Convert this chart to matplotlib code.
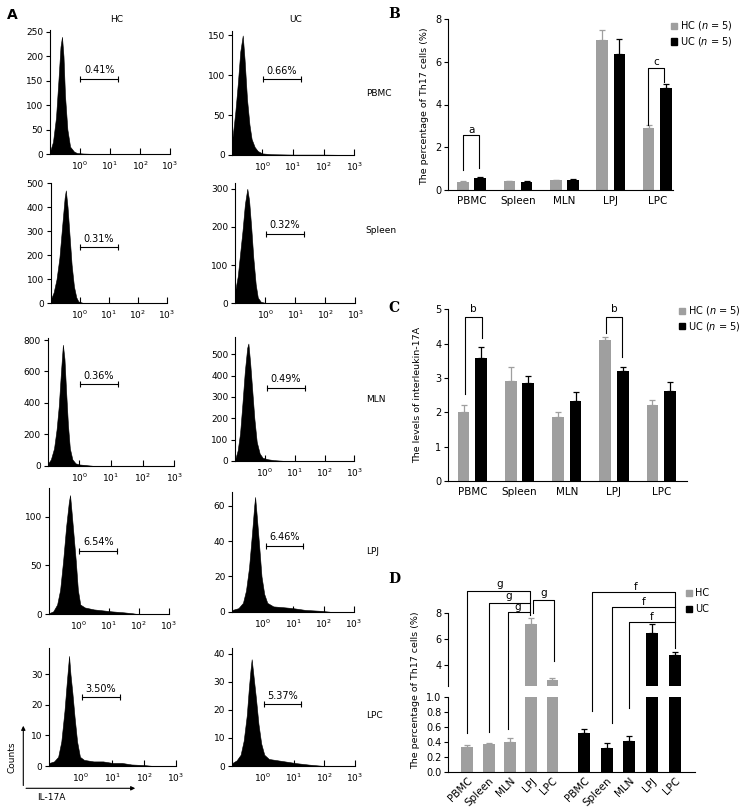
import numpy as np
import matplotlib.pyplot as plt
from matplotlib.lines import Line2D
from matplotlib.patches import Rectangle

W, H = 749, 808
plt.rcParams['font.family'] = ['DejaVu Sans']
plt.rcParams['font.size'] = 6.5
plt.rcParams['axes.linewidth'] = 0.8
plt.rcParams['mathtext.fontset'] = 'dejavusans'

# ---- panel A: flow histograms (log10 IL-17A, counts)
hc_pbmc_x = [-1.0, -0.9, -0.8, -0.72, -0.65, -0.6, -0.55, -0.5, -0.42, -0.33, -0.2, -0.1, 0.1, 0.5]
hc_pbmc_y = [5, 25, 75, 150, 220, 240, 200, 120, 50, 15, 5, 2, 1, 0]
uc_pbmc_x = [-1.0, -0.95, -0.88, -0.8, -0.72, -0.64, -0.58, -0.5, -0.42, -0.35, -0.25, -0.15, 0.0, 0.3, 1.0, 2.0, 3.0]
uc_pbmc_y = [15, 30, 55, 90, 130, 150, 120, 70, 38, 20, 10, 5, 2, 1, 0.5, 0.5, 0]
hc_spleen_x = [-1.0, -0.9, -0.8, -0.7, -0.6, -0.52, -0.48, -0.42, -0.35, -0.28, -0.2, -0.12, -0.05, 0.1, 0.5]
hc_spleen_y = [15, 45, 100, 190, 330, 440, 470, 400, 280, 160, 70, 25, 8, 2, 0]
uc_spleen_x = [-1.0, -0.92, -0.84, -0.76, -0.68, -0.6, -0.54, -0.47, -0.4, -0.32, -0.25, -0.15, 0.0, 0.5]
uc_spleen_y = [35, 70, 130, 190, 260, 300, 270, 200, 120, 50, 15, 4, 1, 0]
hc_mln_x = [-1.0, -0.9, -0.8, -0.72, -0.65, -0.58, -0.52, -0.47, -0.42, -0.36, -0.3, -0.22, -0.12, 0.0, 0.2, 0.4]
hc_mln_y = [10, 40, 110, 230, 380, 600, 770, 680, 480, 260, 110, 40, 15, 8, 4, 0]
uc_mln_x = [-1.0, -0.92, -0.84, -0.76, -0.68, -0.6, -0.56, -0.5, -0.43, -0.36, -0.28, -0.18, -0.08, 0.1, 0.3, 0.6, 1.0]
uc_mln_y = [10, 50, 130, 270, 420, 530, 550, 460, 330, 200, 90, 35, 15, 8, 4, 1, 0]
hc_lpj_x = [-1.0, -0.85, -0.72, -0.62, -0.52, -0.42, -0.33, -0.29, -0.24, -0.17, -0.1, -0.03, 0.05, 0.2, 0.5, 0.8, 1.1, 1.5, 1.8, 2.0]
hc_lpj_y = [1, 3, 10, 25, 55, 90, 115, 122, 105, 80, 55, 25, 10, 7, 5, 4, 3, 2, 1, 0]
uc_lpj_x = [-1.0, -0.8, -0.65, -0.55, -0.45, -0.35, -0.28, -0.25, -0.2, -0.12, -0.04, 0.05, 0.15, 0.35, 0.7, 1.0, 1.4, 1.9, 2.2]
uc_lpj_y = [1, 2, 5, 12, 25, 45, 60, 65, 55, 38, 20, 10, 5, 3, 2.5, 2, 1, 0.5, 0]
hc_lpc_x = [-1.0, -0.85, -0.72, -0.62, -0.52, -0.45, -0.4, -0.375, -0.33, -0.27, -0.2, -0.12, -0.03, 0.1, 0.4, 0.7, 1.0, 1.3, 1.6, 2.0, 2.3]
hc_lpc_y = [1, 1.5, 3, 8, 18, 27, 33, 36, 30, 24, 16, 8, 3, 2, 1.5, 1.5, 1, 1, 0.5, 0.3, 0]
uc_lpc_x = [-1.0, -0.85, -0.72, -0.62, -0.52, -0.45, -0.4, -0.36, -0.3, -0.22, -0.14, -0.05, 0.05, 0.2, 0.5, 0.8, 1.1, 1.5, 2.0]
uc_lpc_y = [1, 2, 4, 9, 18, 28, 34, 38, 32, 24, 15, 8, 4, 2.5, 2, 1.5, 1, 0.5, 0]
pct_labels = ['0.41%', '0.66%', '0.31%', '0.32%', '0.36%', '0.49%', '6.54%', '6.46%', '3.50%', '5.37%']

# ---- panel B / C / D data
cats = ['PBMC', 'Spleen', 'MLN', 'LPJ', 'LPC']
b_hc = [0.38, 0.42, 0.47, 7.0, 2.9]
b_hc_err = [0.02, 0.02, 0.02, 0.5, 0.15]
b_uc = [0.55, 0.37, 0.45, 6.35, 4.75]
b_uc_err = [0.07, 0.06, 0.08, 0.7, 0.22]
c_hc = [2.0, 2.9, 1.86, 4.1, 2.2]
c_hc_err = [0.21, 0.43, 0.14, 0.08, 0.17]
c_uc = [3.58, 2.84, 2.32, 3.19, 2.61]
c_uc_err = [0.33, 0.23, 0.28, 0.14, 0.26]
d_hc = [0.33, 0.37, 0.40, 7.14, 2.90]
d_hc_err = [0.03, 0.02, 0.05, 0.43, 0.14]
d_uc = [0.52, 0.32, 0.41, 6.44, 4.77]
d_uc_err = [0.05, 0.065, 0.065, 0.68, 0.28]

GRAY = '#9f9f9f'
CAT_FS = 7.5
fig = plt.figure(figsize=(W / 100, H / 100), dpi=100)


def add_ax(l, t, r, b):
    return fig.add_axes([l / W, 1 - b / H, (r - l) / W, (b - t) / H])


def fx(x):
    return x / W


def fy(y):
    return 1 - y / H


def ftext(x, y, s, **kw):
    fig.text(fx(x), fy(y), s, **kw)


# histogram layout: box (l, t, r, b), y top, yticks, gate (x0, x1, y)
hists = [
    (hc_pbmc_x, hc_pbmc_y, (50, 30, 170, 154), 254, [0, 50, 100, 150, 200, 250], (0.0, 1.28, 154)),
    (uc_pbmc_x, uc_pbmc_y, (231.7, 30.7, 354.3, 155), 156, [0, 50, 100, 150], (0.03, 1.26, 95)),
    (hc_spleen_x, hc_spleen_y, (50.7, 182.7, 167, 303.3), 502, [0, 100, 200, 300, 400, 500], (0.0, 1.31, 233)),
    (uc_spleen_x, uc_spleen_y, (235.3, 182.7, 355.3, 303.3), 316, [0, 100, 200, 300], (0.03, 1.29, 182)),
    (hc_mln_x, hc_mln_y, (47.7, 338, 174.3, 465.7), 813, [0, 200, 400, 600, 800], (0.02, 1.22, 518)),
    (uc_mln_x, uc_mln_y, (235.3, 336.7, 354.3, 461), 582, [0, 100, 200, 300, 400, 500], (0.06, 1.33, 343)),
    (hc_lpj_x, hc_lpj_y, (48.7, 488.3, 169, 614.3), 129, [0, 50, 100], (0.02, 1.28, 65)),
    (uc_lpj_x, uc_lpj_y, (232.3, 491.7, 354, 611.7), 68, [0, 20, 40, 60], (0.12, 1.34, 37.4)),
    (hc_lpc_x, hc_lpc_y, (49.3, 648.3, 175.7, 766), 38.5, [0, 10, 20, 30], (0.04, 1.23, 22.5)),
    (uc_lpc_x, uc_lpc_y, (232, 648, 355, 766), 42, [0, 10, 20, 30, 40], (0.05, 1.25, 22)),
]

for (hx, hy, box, ytop, yt, gate), pct in zip(hists, pct_labels):
    ax = add_ax(*box)
    ax.fill_between(hx, hy, color='black', lw=0.4)
    ax.set_xlim(-1, 3)
    ax.set_ylim(0, ytop)
    ax.set_xticks([0, 1, 2, 3])
    ax.set_xticklabels([r'$10^{0}$', r'$10^{1}$', r'$10^{2}$', r'$10^{3}$'])
    ax.set_yticks(yt)
    ax.tick_params(axis='x', direction='in', length=4, width=0.8, pad=4, labelsize=6.5)
    ax.tick_params(axis='y', direction='out', length=3, width=0.8, pad=2, labelsize=6.5)
    for s in ['top', 'right']:
        ax.spines[s].set_visible(False)
    x0, x1, gy = gate
    ax.plot([x0, x1], [gy, gy], color='black', lw=0.8, marker='|', ms=5, mew=0.8)
    ax.annotate(pct, ((x0 + x1) / 2, gy), xytext=(0, 2.5), textcoords='offset points',
                ha='center', va='bottom', fontsize=7)

ftext(12, 15, 'A', fontsize=10, fontweight='bold', ha='center', va='center')
ftext(117, 19, 'HC', ha='center', va='center')
ftext(296, 19, 'UC', ha='center', va='center')
for name, yy in zip(cats, [93, 231, 400, 552, 715]):
    ftext(365.7, yy, name, ha='left', va='center')

# Counts / IL-17A arrows
fig.add_artist(plt.Annotation('', xy=(fx(23.3), fy(723)), xytext=(fx(23.3), fy(788.3)),
                              xycoords='figure fraction', textcoords='figure fraction',
                              arrowprops=dict(arrowstyle='-|>', lw=0.8, color='black', mutation_scale=6)))
fig.add_artist(plt.Annotation('', xy=(fx(138), fy(788.3)), xytext=(fx(23.3), fy(788.3)),
                              xycoords='figure fraction', textcoords='figure fraction',
                              arrowprops=dict(arrowstyle='-|>', lw=0.8, color='black', mutation_scale=6)))
ftext(11.7, 757, 'Counts', rotation=90, ha='center', va='center')
ftext(51.3, 797, 'IL-17A', ha='center', va='center')


def style_bar_ax(ax):
    for s in ['top', 'right']:
        ax.spines[s].set_visible(False)
    ax.tick_params(direction='out', length=3, width=0.8, pad=2, labelsize=6.5)


def legend(x, y, labels):
    for i, (lab, col) in enumerate(zip(labels, [GRAY, 'black'])):
        yy = y + i * 15.5
        fig.add_artist(Rectangle((fx(x - 3), fy(yy + 3)), 6 / W, 6 / H,
                                 transform=fig.transFigure, color=col))
        ftext(x + 6, yy, lab, ha='left', va='center', fontsize=7)


def bracket(ax, xa, ya, xb, yb, ytop, label, ylab):
    ax.plot([xa, xa, xb, xb], [ya, ytop, ytop, yb], color='black', lw=0.8, clip_on=False)
    ax.text((xa + xb) / 2, ylab, label, ha='center', va='center', fontsize=7.5)


def grouped(ax, hc, hc_err, uc, uc_err):
    x = np.arange(len(cats))
    off, w = 0.186, 0.25
    ax.bar(x - off, hc, w, color=GRAY)
    ax.bar(x + off, uc, w, color='black')
    ax.errorbar(x - off, hc, yerr=[np.zeros(5), hc_err], fmt='none', ecolor=GRAY,
                elinewidth=0.9, capsize=2, capthick=0.9)
    ax.errorbar(x + off, uc, yerr=[np.zeros(5), uc_err], fmt='none', ecolor='black',
                elinewidth=0.9, capsize=2, capthick=0.9)
    ax.set_xticks(x)
    ax.set_xticklabels(cats, fontsize=CAT_FS)
    style_bar_ax(ax)
    ax.tick_params(axis='x', length=0, pad=4, labelsize=CAT_FS)
    ax.tick_params(axis='y', labelsize=7)
    return x, off


# ---- panel B
axb = add_ax(448.3, 19, 673, 190)
x, off = grouped(axb, b_hc, b_hc_err, b_uc, b_uc_err)
axb.set_xlim(-0.5, 4.34)
axb.set_ylim(0, 8)
axb.set_yticks([0, 2, 4, 6, 8])
bracket(axb, -0.175, 0.93, 0.17, 1.03, 2.57, 'a', 2.8)
bracket(axb, 3.8, 3.04, 4.14, 5.06, 5.69, 'c', 6.0)
ftext(425, 106, 'The percentage of Th17 cells (%)', rotation=90, ha='center', va='center', fontsize=6.8)
legend(674, 26, ['HC ($n$ = 5)', 'UC ($n$ = 5)'])
ftext(394, 14, 'B', fontsize=10, fontweight='bold', ha='center', va='center', family='DejaVu Serif')

# ---- panel C
axc = add_ax(448.3, 309.3, 686.7, 481)
grouped(axc, c_hc, c_hc_err, c_uc, c_uc_err)
axc.set_xlim(-0.51, 4.54)
axc.set_ylim(0, 5)
axc.set_yticks([0, 1, 2, 3, 4, 5])
bracket(axc, -0.15, 2.54, 0.197, 4.16, 4.78, 'b', 5.0)
bracket(axc, 2.84, 4.32, 3.17, 3.62, 4.79, 'b', 5.0)
ftext(418, 395, 'The levels of interleukin-17A', rotation=90, ha='center', va='center', fontsize=6.8)
legend(682.3, 310.7, ['HC ($n$ = 5)', 'UC ($n$ = 5)'])
ftext(394, 308, 'C', fontsize=10, fontweight='bold', ha='center', va='center', family='DejaVu Serif')

# ---- panel D (broken axis)
hc_pos = np.arange(5)
uc_pos = 5.49 + np.arange(5) * 1.061
xl = (-0.89, 10.69)
top_px = 575
axd_top = add_ax(448.3, top_px, 695, 686)
axd_bot = add_ax(448.3, 697.3, 695, 771.7)
d_upper_top = 8 + (612.7 - top_px) / 13.15
for ax in (axd_top, axd_bot):
    ax.bar(hc_pos, d_hc, 0.56, color=GRAY)
    ax.bar(uc_pos, d_uc, 0.56, color='black')
    ax.errorbar(hc_pos, d_hc, yerr=[np.zeros(5), d_hc_err], fmt='none', ecolor=GRAY,
                elinewidth=0.9, capsize=2, capthick=0.9)
    ax.errorbar(uc_pos, d_uc, yerr=[np.zeros(5), d_uc_err], fmt='none', ecolor='black',
                elinewidth=0.9, capsize=2, capthick=0.9)
    ax.set_xlim(*xl)
    style_bar_ax(ax)
    ax.tick_params(axis='y', labelsize=7)
axd_top.set_ylim(2.43, d_upper_top)
axd_top.spines['left'].set_bounds(2.43, 8.0)
axd_top.spines['bottom'].set_visible(False)
axd_top.set_yticks([4, 6, 8])
axd_top.set_xticks([])
axd_bot.set_ylim(0, 1.0)
axd_bot.set_yticks([0, 0.2, 0.4, 0.6, 0.8, 1.0])
axd_bot.set_yticklabels(['0.0', '0.2', '0.4', '0.6', '0.8', '1.0'])
axd_bot.set_xticks(np.concatenate([hc_pos, uc_pos]))
axd_bot.set_xticklabels(cats + cats, rotation=45, ha='right', rotation_mode='anchor', fontsize=CAT_FS)
axd_bot.tick_params(axis='x', length=0, pad=3)


def to_fig(ax, x, y):
    return fig.transFigure.inverted().transform(ax.transData.transform((x, y)))


def fig_line(pts):
    xs = [p[0] for p in pts]
    ys = [p[1] for p in pts]
    fig.add_artist(Line2D(xs, ys, transform=fig.transFigure, color='black', lw=0.8))


T, B_ = axd_top, axd_bot
# g brackets (HC group)
fig_line([to_fig(B_, 0.0, 0.52), to_fig(T, 0.0, 9.67), to_fig(T, 2.95, 9.67), to_fig(T, 2.95, 7.83)])
fig_line([to_fig(B_, 1.04, 0.54), to_fig(T, 1.04, 8.76), to_fig(T, 2.95, 8.76)])
fig_line([to_fig(B_, 1.93, 0.58), to_fig(T, 1.93, 8.05), to_fig(T, 2.95, 8.05)])
fig_line([to_fig(T, 3.1, 7.95), to_fig(T, 3.1, 9.0), to_fig(T, 4.09, 9.0), to_fig(T, 4.09, 4.3)])
for gx, gyv in [(1.51, 10.18), (1.93, 9.27), (2.35, 8.46), (3.57, 9.52)]:
    T.text(gx, gyv, 'g', ha='center', va='center', fontsize=7.5, clip_on=False)
# f brackets (UC group)
fig_line([to_fig(B_, 5.85, 0.81), to_fig(T, 5.85, 9.54), to_fig(T, 9.76, 9.54), to_fig(T, 9.76, 5.3)])
fig_line([to_fig(B_, 6.81, 0.65), to_fig(T, 6.81, 8.43), to_fig(T, 9.76, 8.43)])
fig_line([to_fig(B_, 7.61, 0.85), to_fig(T, 7.61, 7.27), to_fig(T, 9.76, 7.27)])
for gx, gyv in [(7.92, 9.98), (8.27, 8.84), (8.66, 7.70)]:
    T.text(gx, gyv, 'f', ha='center', va='center', fontsize=7.5, clip_on=False)

ftext(416, 690, 'The percentage of Th17 cells (%)', rotation=90, ha='center', va='center', fontsize=6.8)
legend(689.3, 593.3, ['HC', 'UC'])
ftext(394, 579, 'D', fontsize=10, fontweight='bold', ha='center', va='center', family='DejaVu Serif')

fig.savefig('out.png', dpi=100)
